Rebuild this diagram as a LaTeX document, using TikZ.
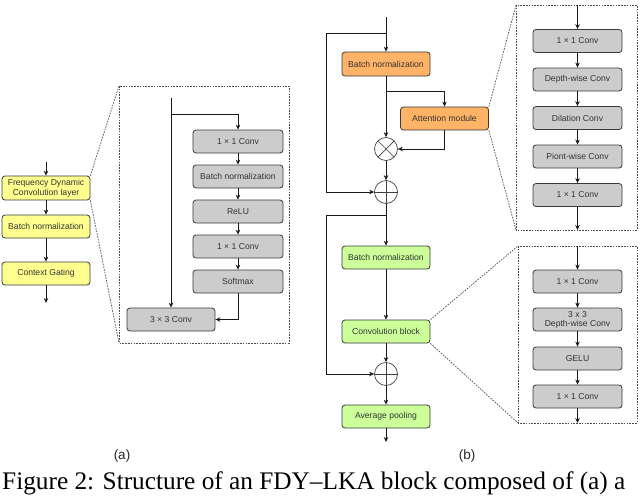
\documentclass[tikz,border=0pt]{standalone}
\usepackage{fontspec}
\setmainfont{Liberation Serif}
\newfontfamily\arialf{Liberation Sans}
\usetikzlibrary{arrows.meta,calc}
\definecolor{yel}{HTML}{FFFF8F}
\definecolor{gry}{HTML}{CCCCCC}
\definecolor{org}{HTML}{FFB366}
\definecolor{grn}{HTML}{CCFF99}
\definecolor{bord}{HTML}{36393D}
\definecolor{txt}{HTML}{333333}
\tikzset{
  blk/.style={draw=bord, line width=0.8pt, rounded corners=3pt, inner sep=1pt, align=center,
    text=txt, font=\arialf\fontsize{8.6}{9.6}\selectfont, minimum width=88pt, minimum height=23pt},
  yblk/.style={blk, fill=yel},
  gblk/.style={blk, fill=gry},
  oblk/.style={blk, fill=org, minimum height=24pt},
  lblk/.style={blk, fill=grn},
  arr/.style={draw=black!90, line width=0.8pt, -{Stealth[length=5pt,width=4.5pt]}},
  dsh/.style={draw=black!70, line width=0.7pt, dash pattern=on 1.6pt off 1.2pt},
  opnode/.style={circle, draw=black!75, line width=0.7pt, minimum size=23pt, inner sep=0pt},
  mulop/.style={opnode, path picture={
     \draw[black!75, line width=0.7pt] (path picture bounding box.north west) -- (path picture bounding box.south east)
        (path picture bounding box.south west) -- (path picture bounding box.north east);}},
  addop/.style={opnode, path picture={
     \draw[black!75, line width=0.7pt] (path picture bounding box.north) -- (path picture bounding box.south)
        (path picture bounding box.west) -- (path picture bounding box.east);}},
  sublab/.style={font=\arialf\fontsize{13.5}{15}\selectfont, text=black!85},
}
\begin{document}
\begin{tikzpicture}[x=1pt,y=-1pt]
\useasboundingbox (0,0) rectangle (640,498);
% ---------------- (a) ----------------
\coordinate (ain) at (46,162);
\node[yblk, minimum height=24pt] (fdc) at (46,188) {Frequency Dynamic\\Convolution layer};
\node[yblk] (bna) at (46,226.5) {Batch normalization};
\node[yblk] (cg) at (46,273.5) {Context Gating};
\coordinate (aout) at (46,303);
\draw[arr] (ain) -- (fdc.north);
\draw[arr] (fdc.south) -- (bna.north);
\draw[arr] (bna.south) -- (cg.north);
\draw[arr] (cg.south) -- (aout);
% dashed zoom box a
\coordinate (da1) at (119,86);
\coordinate (da2) at (289,343);
\draw[dsh] (da1) rectangle (da2);
\coordinate (da3) at (119,343);
\draw[dsh] (fdc.north east) -- (da1);
\draw[dsh] (fdc.south east) -- (da3);
% inside a
\node[gblk, minimum width=90pt] (ac1) at (238,141.5) {1 × 1 Conv};
\node[gblk, minimum width=90pt] (abn) at (238,176.5) {Batch normalization};
\node[gblk, minimum width=90pt] (arelu) at (238,211.5) {ReLU};
\node[gblk, minimum width=90pt] (ac2) at (238,246.5) {1 × 1 Conv};
\node[gblk, minimum width=90pt] (asm) at (238,281.5) {Softmax};
\node[gblk] (ac3) at (171,319.5) {3 × 3 Conv};
\coordinate (atop) at (171,98);
\coordinate (abr) at (171,114);
\draw[arr] (atop) -- (ac3.north);
\draw[arr] (abr) -| (ac1.north);
\draw[arr] (ac1.south) -- (abn.north);
\draw[arr] (abn.south) -- (arelu.north);
\draw[arr] (arelu.south) -- (ac2.north);
\draw[arr] (ac2.south) -- (asm.north);
\draw[arr] (asm.south) |- (ac3.east);
% ---------------- (b) ----------------
\node[oblk] (bno) at (386,64) {Batch normalization};
\node[oblk, minimum height=23pt] (att) at (444.5,118.5) {Attention module};
\node[mulop] (mul) at (386,149) {};
\node[addop] (add1) at (386,192) {};
\node[lblk] (bng) at (386,257.5) {Batch normalization};
\node[lblk] (cb) at (386,331.5) {Convolution block};
\node[addop] (add2) at (386,374) {};
\node[lblk] (ap) at (386,416.5) {Average pooling};
\coordinate (btop) at (386,17);
\coordinate (bbr1) at (386,33);
\coordinate (bl1) at (326,33);
\coordinate (bbr2) at (386,91);
\coordinate (bbr3) at (386,215);
\coordinate (bl3) at (326,215);
\coordinate (bout) at (386,442);
\draw[arr] (btop) -- (bno.north);
\draw[arr] (bbr1) -- (bl1) |- (add1.west);
\draw[arr] (bno.south) -- (mul.north);
\draw[arr] (bbr2) -| (att.north);
\draw[arr] (att.south) |- (mul.east);
\draw[arr] (mul.south) -- (add1.north);
\draw[arr] (add1.south) -- (bng.north);
\draw[arr] (bbr3) -- (bl3) |- (add2.west);
\draw[arr] (bng.south) -- (cb.north);
\draw[arr] (cb.south) -- (add2.north);
\draw[arr] (add2.south) -- (ap.north);
\draw[arr] (ap.south) -- (bout);
% dashed zoom box top right
\coordinate (dt1) at (516,5);
\coordinate (dt2) at (637,230);
\coordinate (dt3) at (516,230);
\draw[dsh] (dt1) rectangle (dt2);
\draw[dsh] (att.north east) -- (dt1);
\draw[dsh] (att.south east) -- (dt3);
\node[gblk, minimum width=89pt] (r1) at (577.5,41) {1 × 1 Conv};
\node[gblk, minimum width=89pt] (r2) at (577.5,79.5) {Depth-wise Conv};
\node[gblk, minimum width=89pt] (r3) at (577.5,118) {Dilation Conv};
\node[gblk, minimum width=89pt] (r4) at (577.5,156.5) {Piont-wise Conv};
\node[gblk, minimum width=89pt] (r5) at (577.5,195) {1 × 1 Conv};
\coordinate (rin) at (577.5,5);
\coordinate (rout) at (577.5,230);
\draw[arr] (rin) -- (r1.north);
\draw[arr] (r1.south) -- (r2.north);
\draw[arr] (r2.south) -- (r3.north);
\draw[arr] (r3.south) -- (r4.north);
\draw[arr] (r4.south) -- (r5.north);
\draw[arr] (r5.south) -- (rout);
% dashed zoom box bottom right
\coordinate (ds1) at (518,246);
\coordinate (ds2) at (637,423);
\coordinate (ds3) at (518,423);
\draw[dsh] (ds1) rectangle (ds2);
\draw[dsh] (cb.north east) -- (ds1);
\draw[dsh] (cb.south east) -- (ds3);
\node[gblk, minimum width=89pt] (s1) at (577.5,281.5) {1 × 1 Conv};
\node[gblk, minimum width=89pt, font=\arialf\fontsize{8.6}{9}\selectfont] (s2) at (577.5,319.5) {3 x 3\\Depth-wise Conv};
\node[gblk, minimum width=89pt] (s3) at (577.5,358.5) {GELU};
\node[gblk, minimum width=89pt] (s4) at (577.5,396.5) {1 × 1 Conv};
\coordinate (sin) at (577.5,246);
\coordinate (sout) at (577.5,423);
\draw[arr] (sin) -- (s1.north);
\draw[arr] (s1.south) -- (s2.north);
\draw[arr] (s2.south) -- (s3.north);
\draw[arr] (s3.south) -- (s4.north);
\draw[arr] (s4.south) -- (sout);
% labels
\node[sublab] (la) at (122,456) {(a)};
\node[sublab] (lb) at (467,456) {(b)};
\node[anchor=base west, inner sep=0pt, font=\fontsize{25.3}{28}\selectfont] (cap) at (2,489) {Figure 2: Structure of an FDY–LKA block composed of (a) a};
\end{tikzpicture}
\end{document}
